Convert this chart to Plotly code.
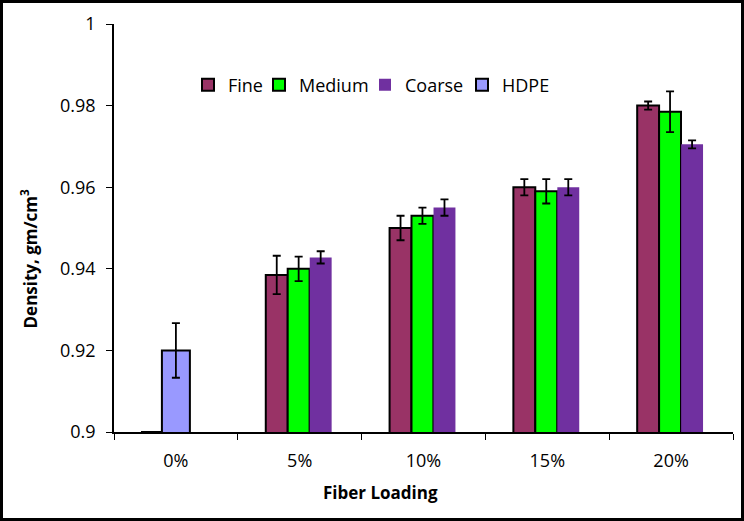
import plotly.graph_objects as go

categories = ["0%", "5%", "10%", "15%", "20%"]
fine = [0.9, 0.9385, 0.950, 0.960, 0.980]
fine_err = [0, 0.0047, 0.003, 0.002, 0.001]
medium = [None, 0.940, 0.953, 0.959, 0.9785]
medium_err = [0, 0.003, 0.002, 0.003, 0.005]
coarse = [None, 0.9428, 0.955, 0.960, 0.9705]
coarse_err = [0, 0.0015, 0.002, 0.002, 0.001]
hdpe = [0.920, None, None, None, None]
hdpe_err = [0.0067, 0, 0, 0, 0]
x_title = "Fiber Loading"
y_title = "Density, gm/cm<sup>3</sup>"

W = 0.177
err_style = dict(type="data", color="black", thickness=1.8, width=4)

fig = go.Figure()
fig.add_trace(go.Bar(name="Fine", x=categories, y=fine, width=W, offset=-0.274,
                     marker=dict(color="#993366", line=dict(color="black", width=2)),
                     error_y=dict(array=fine_err, **err_style), legend="legend"))
fig.add_trace(go.Bar(name="Medium", x=categories, y=medium, width=W, offset=-0.097,
                     marker=dict(color="#00FF00", line=dict(color="black", width=2)),
                     error_y=dict(array=medium_err, **err_style), legend="legend2"))
fig.add_trace(go.Bar(name="Coarse", x=categories, y=coarse, width=W, offset=0.081,
                     marker=dict(color="#7030A0", line=dict(color="#7030A0", width=0)),
                     error_y=dict(array=coarse_err, **err_style), legend="legend3"))
fig.add_trace(go.Bar(name="HDPE", x=categories, y=hdpe, width=0.226, offset=-0.113,
                     marker=dict(color="#9999FF", line=dict(color="black", width=2)),
                     error_y=dict(array=hdpe_err, **err_style), legend="legend4"))

font_family = "Open Sans, sans-serif"
PW, PH, L, T = 619, 408, 114, 24


def px_x(px):
    return (px - L) / PW


def px_y(py):
    return (T + PH - py) / PH


def leg(px):
    return dict(orientation="h", x=px_x(px), y=px_y(85), xanchor="left", yanchor="middle",
                font=dict(size=18), bgcolor="rgba(0,0,0,0)", itemwidth=30)


fig.update_layout(
    width=744, height=521,
    margin=dict(l=L, r=11, t=T, b=89),
    barmode="overlay",
    plot_bgcolor="white", paper_bgcolor="white",
    font=dict(family=font_family, size=18, color="black"),
    showlegend=True,
    legend=leg(188), legend2=leg(259), legend3=leg(365), legend4=leg(462),
    xaxis=dict(type="category", showline=True, linecolor="black", linewidth=1.5,
               ticks="outside", ticklen=6, tickcolor="black", tickson="boundaries",
               showgrid=False, tickfont=dict(size=18), ticklabelstandoff=12),
    yaxis=dict(range=[0.9, 1.0], dtick=0.02, showline=True, linecolor="black", linewidth=1.5,
               ticks="outside", ticklen=6, tickcolor="black", showgrid=False, zeroline=False,
               tickfont=dict(size=18), tickformat="~g", ticklabelstandoff=7),
    annotations=[
        dict(text="<b>" + x_title + "</b>", xref="paper", yref="paper",
             x=px_x(380.5), y=px_y(493), xanchor="center", yanchor="middle",
             showarrow=False, font=dict(size=17)),
        dict(text="<b>" + y_title + "</b>", xref="paper", yref="paper",
             x=px_x(28.5), y=px_y(259), xanchor="center", yanchor="middle",
             textangle=-90, showarrow=False, font=dict(size=17)),
    ],
    shapes=[dict(type="rect", xref="paper", yref="paper",
                 x0=px_x(1.5), x1=px_x(742.5), y0=px_y(519.5), y1=px_y(1.5),
                 line=dict(color="black", width=3), fillcolor="rgba(0,0,0,0)", layer="above")],
)
fig.write_html("out.html", config={"displayModeBar": False},
               post_script="document.body.style.margin='0';document.body.style.padding='0';")
